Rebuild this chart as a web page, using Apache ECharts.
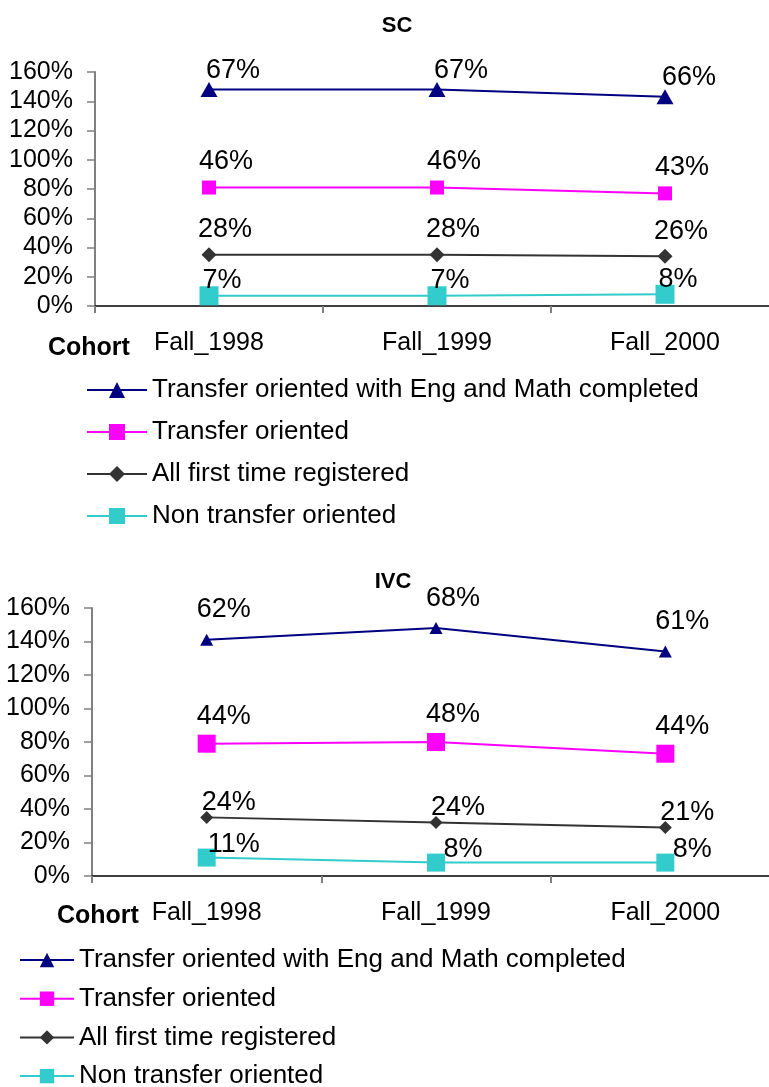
<!DOCTYPE html>
<html>
<head>
<meta charset="utf-8">
<script src="https://cdn.jsdelivr.net/npm/echarts@6/dist/echarts.min.js"></script>
<style>
  html, body { margin: 0; padding: 0; background: #fff; }
  #sc { width: 769px; height: 545px; }
  #ivc { width: 769px; height: 542px; }
</style>
</head>
<body>
<div id="sc"></div>
<div id="ivc"></div>
<script>
// Categories and series names
const cohorts = ['Fall_1998', 'Fall_1999', 'Fall_2000']
const nameEngMath = 'Transfer oriented with Eng and Math completed'
const nameTransfer = 'Transfer oriented'
const nameAllFirst = 'All first time registered'
const nameNonTransfer = 'Non transfer oriented'

// SC values (%)
const scNonTransfer = [7, 7, 8]
const scAllFirst = [28, 28, 26]
const scTransfer = [46, 46, 43]
const scEngMath = [67, 67, 66]

// IVC values (%)
const ivcNonTransfer = [11, 8, 8]
const ivcAllFirst = [24, 24, 21]
const ivcTransfer = [44, 48, 44]
const ivcEngMath = [62, 68, 61]

// y axis ticks
const yMin = 0
const yMax = 160
const yStep = 20

const FONT = 'Liberation Sans, Arial, sans-serif'

// Une série empilée
const makeSeries = (name, values, color, symbol, size, offset) => ({
  name: name,
  type: 'line',
  stack: 'total',
  data: values,
  symbol: symbol,
  symbolSize: size,
  color: color,
  lineStyle: { width: 2, color: color },
  itemStyle: { color: color },
  label: {
    show: true,
    position: 'inside',
    offset: offset,
    formatter: '{c}%',
    color: '#000',
    fontSize: 27,
    fontFamily: FONT
  }
})

const buildOption = (cfg) => ({
  animation: false,
  title: [
    {
      text: cfg.title,
      left: cfg.titleX,
      top: cfg.titleTop,
      textAlign: 'center',
      padding: 0,
      textStyle: { fontSize: 22, fontWeight: 'bold', color: '#000', fontFamily: FONT }
    },
    {
      text: 'Cohort',
      left: cfg.cohortX,
      top: cfg.cohortTop,
      padding: 0,
      textStyle: { fontSize: 25, fontWeight: 'bold', color: '#000', fontFamily: FONT }
    }
  ],
  legend: {
    orient: 'vertical',
    left: cfg.legendLeft,
    top: cfg.legendTop,
    height: 300,
    padding: 0,
    itemWidth: cfg.legendItemWidth,
    itemHeight: cfg.legendItemHeight,
    itemGap: cfg.legendGap,
    data: [nameEngMath, nameTransfer, nameAllFirst, nameNonTransfer],
    textStyle: { fontSize: 26, color: '#000', fontFamily: FONT }
  },
  grid: cfg.grid,
  xAxis: {
    type: 'category',
    data: cohorts,
    boundaryGap: true,
    axisLine: { lineStyle: { color: '#000', width: 1.5 } },
    axisTick: { show: true, length: 7, lineStyle: { color: '#808080', width: 2 } },
    axisLabel: { margin: 25, fontSize: 25, color: '#000', fontFamily: FONT }
  },
  yAxis: {
    type: 'value',
    min: yMin,
    max: yMax,
    interval: yStep,
    axisLine: { show: true, lineStyle: { color: '#808080', width: 2 } },
    axisTick: { show: true, length: 8, lineStyle: { color: '#808080', width: 1.5 } },
    splitLine: { show: false },
    axisLabel: { margin: 22, fontSize: 25, color: '#000', fontFamily: FONT, formatter: '{value}%' }
  },
  series: [
    makeSeries(nameNonTransfer, cfg.values[0], '#33CCCC', 'rect', cfg.sizes[0], cfg.offsets[0]),
    makeSeries(nameAllFirst, cfg.values[1], '#333333', 'diamond', cfg.sizes[1], cfg.offsets[1]),
    makeSeries(nameTransfer, cfg.values[2], '#FF00FF', 'rect', cfg.sizes[2], cfg.offsets[2]),
    makeSeries(nameEngMath, cfg.values[3], '#000080', 'triangle', cfg.sizes[3], cfg.offsets[3])
  ]
})

const scChart = echarts.init(document.getElementById('sc'))
scChart.setOption(buildOption({
  title: 'SC',
  titleX: 397,
  titleTop: 15,
  cohortX: 48,
  cohortTop: 336,
  legendLeft: 86,
  legendTop: 377,
  legendItemWidth: 60,
  legendItemHeight: 20,
  legendGap: 16,
  grid: { left: 95, width: 684, top: 72, height: 234, outerBoundsMode: 'none' },
  values: [scNonTransfer, scAllFirst, scTransfer, scEngMath],
  sizes: [19, 15, 14, [17, 15]],
  offsets: [[13, -15], [16, -25], [17, -26], [24, -19]]
}))

const ivcChart = echarts.init(document.getElementById('ivc'))
ivcChart.setOption(buildOption({
  title: 'IVC',
  titleX: 393,
  titleTop: 26,
  cohortX: 57,
  cohortTop: 359,
  legendLeft: 19,
  legendTop: 402,
  legendItemWidth: 54,
  legendItemHeight: 18,
  legendGap: 12.7,
  grid: { left: 92, width: 688, top: 63, height: 268, outerBoundsMode: 'none' },
  values: [ivcNonTransfer, ivcAllFirst, ivcTransfer, ivcEngMath],
  sizes: [18, 13, 18, [13, 12]],
  offsets: [[27, -13], [22, -15], [17, -27], [17, -30]]
}))
</script>
</body>
</html>
